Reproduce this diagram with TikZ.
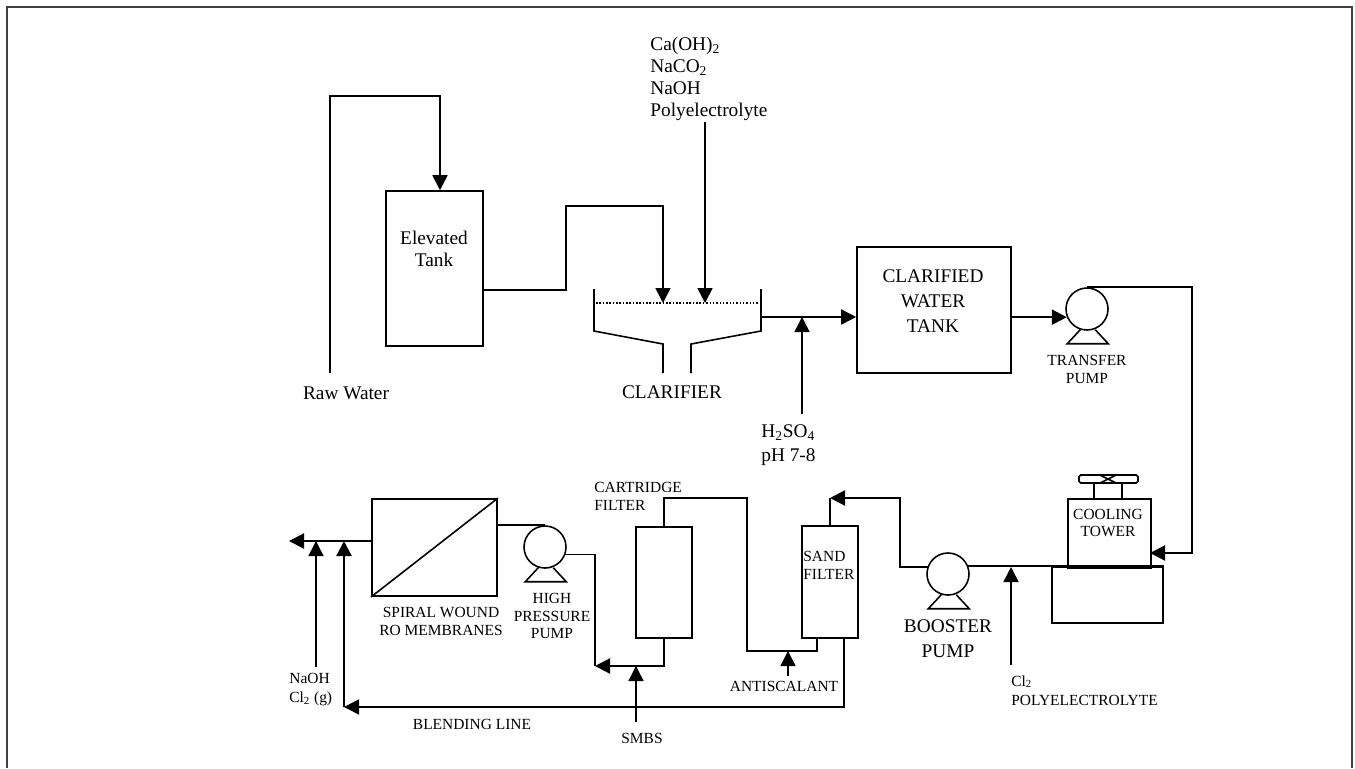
\documentclass[tikz,border=0pt]{standalone}
\usepackage{fontspec}
\setmainfont{Liberation Serif}
\usepackage{tikz}
\usetikzlibrary{arrows.meta,positioning,calc}

\newcommand{\pumpbase}[1]{\draw[pipe] (#1.252) -- ++(-13,14) -- ++(41,0) -- ++(-13,-14);}

\begin{document}
\begin{tikzpicture}[
    x=0.02cm, y=-0.02cm,
    pipe/.style={draw, line width=0.9pt},
    heavy/.style={draw, line width=1.25pt},
    flow/.style={pipe, -{Triangle[length=0.3cm, width=0.3cm]}},
    heavyflow/.style={heavy, -{Triangle[length=0.3cm, width=0.3cm]}},
    unit/.style={draw, line width=0.9pt, inner sep=0pt},
    pumpbody/.style={draw, circle, line width=0.9pt, inner sep=0pt, minimum size=0.84cm},
    biglabel/.style={inner sep=0pt, align=center, font=\fontsize{11}{12.5}\selectfont},
    smalllabel/.style={inner sep=0pt, align=center, font=\fontsize{8.8}{10.2}\selectfont}
  ]
    \useasboundingbox (0,0) rectangle (1355,768);
    \draw[line width=1.1pt, black!75] (7,768) -- (7,7) -- (1352,7) -- (1352,768);

    % upper train
    \node[unit, minimum width=1.94cm, minimum height=3.1cm] (tank) at (434.5,268.5) {};
    \node[biglabel] (tanklabel) at (434,249) {Elevated\\Tank};
    \node[unit, minimum width=3.08cm, minimum height=2.52cm] (clarified) at (934,310) {};
    \node[biglabel] (clarifiedlabel) at (933,301) {CLARIFIED\\[0.06cm]WATER\\[0.06cm]TANK};
    \node[pumpbody] (transfer) at (1087,309) {};
    \pumpbase{transfer}
    \node[smalllabel] (transferlabel) at (1087,369) {TRANSFER\\PUMP};
    \node[biglabel] (raw) at (346,393) {Raw Water};
    \node[biglabel] (clarifierlabel) at (672,392) {CLARIFIER};
    \node[biglabel, align=left, anchor=north west] (dosing) at (650,36.5) {Ca(OH)\textsubscript{2}\\NaCO\textsubscript{2}\\NaOH\\Polyelectrolyte};
    \node[biglabel, align=left, anchor=west] (acid) at (761,445) {H\textsubscript{2}SO\textsubscript{4}\\[0.04cm]pH 7-8};

    % clarifier vessel
    \coordinate (surfl) at (596,303);
    \coordinate (surfr) at (760,303);
    \coordinate (feedin) at (663,303);
    \coordinate (dosein) at (705,303);
    \draw[pipe] (594,289) -- (594,331) -- (663,344) -- (663,373);
    \draw[pipe] (761,289) -- (761,331) -- (691,344) -- (691,373);
    \draw[pipe, densely dotted, line width=0.7pt] (surfl) -- (surfr);

    \coordinate (rawstart) at (330,373);
    \coordinate (dosestart) at (705,122);
    \coordinate (clarout) at (761,317);
    \coordinate (acidin) at (802,317);
    \coordinate (acidstart) at (802,414);
    \draw[flow] (rawstart) -- (330,96) -| ([xshift=0.11cm]tank.north);
    \draw[flow] ([yshift=-0.43cm]tank.east) -- (566,290) -- (566,206) -| (feedin);
    \draw[flow] (dosestart) -- (dosein);
    \draw[flow] (clarout) -- (clarout -| clarified.west);
    \draw[flow] (acidstart) -- (acidin);
    \draw[heavyflow] (clarified.east |- transfer.202) -- (transfer.202);

    % cooling tower
    \node[unit, minimum width=1.66cm, minimum height=1.38cm, anchor=north west] (tower) at (1067,498) {};
    \node[smalllabel] (towerlabel) at (1108,523) {COOLING\\TOWER};
    \node[unit, minimum width=2.22cm, minimum height=1.12cm] (basin) at (1107.5,595) {};
    \node[unit, rounded corners=1pt, minimum width=1.18cm, minimum height=0.16cm] (fan) at (1108.5,479) {};
    \draw[pipe] (1100,475) -- (1116,483) (1100,483) -- (1116,475);
    \draw[pipe] (1094,484) -- (1094,498) (1122,484) -- (1122,498);
    \coordinate (returnin) at (1150,553);
    \coordinate (returnx) at (1192,553);
    \draw[heavyflow] (transfer.north) -| (returnx) -- (returnin);

    % lower train
    \node[pumpbody] (booster) at (948,574) {};
    \pumpbase{booster}
    \node[biglabel] (boosterlabel) at (948,639) {BOOSTER\\[0.06cm]PUMP};
    \coordinate (cl2in) at (1011,567);
    \coordinate (cl2start) at (1011,665);
    \coordinate (boosterleft) at (900,567);
    \draw[heavy] (basin.north east) -- (basin.north east -| booster.20);
    \node[smalllabel, align=left, anchor=north west] (cl2) at (1011,675) {Cl\textsubscript{2}\\[0.03cm]POLYELECTROLYTE};
    \draw[flow] (cl2start) -- (cl2in);

    \node[unit, minimum width=1.12cm, minimum height=2.24cm] (sand) at (830,582) {};
    \node[smalllabel, align=left, anchor=west] (sandlabel) at (803,565) {SAND\\FILTER};
    \coordinate (sandin) at (830,498);
    \coordinate (scalein) at (788,651);
    \coordinate (scalestart) at (788,676);
    \draw[heavyflow] (boosterleft -| booster.160) -- (boosterleft) -- (900,498) -- (sandin);
    \draw[pipe] (sandin) -- (sand.north);
    \node[smalllabel] (antiscalant) at (784,686) {ANTISCALANT};
    \draw[flow] (scalestart) -- (scalein);

    \node[unit, minimum width=1.12cm, minimum height=2.22cm] (cartridge) at (664,582.5) {};
    \node[smalllabel, align=left, anchor=north west] (cartridgelabel) at (594,482) {CARTRIDGE\\FILTER};
    \draw[heavy] ([xshift=-0.26cm]sand.south) |- (747,651) -- (747,498) -| (cartridge.north);

    \node[pumpbody] (hp) at (545,547) {};
    \pumpbase{hp}
    \node[smalllabel] (hplabel) at (552,616) {HIGH\\PRESSURE\\PUMP};
    \node[draw, line width=1.1pt, minimum width=2.5cm, minimum height=1.94cm, inner sep=0pt] (ro) at (434.5,547.5) {};
    \draw[pipe] (ro.south west) -- (ro.north east);
    \node[smalllabel] (rolabel) at (441,621) {SPIRAL WOUND\\RO MEMBRANES};

    \coordinate (hpjoin) at (595,666);
    \coordinate (smbsin) at (636,666);
    \coordinate (smbsstart) at (636,722);
    \draw[heavyflow] (cartridge.south) |- (hpjoin);
    \draw[pipe] (hp.-20) -| (hpjoin);
    \draw[pipe] (ro.north east |- hp.north) -- (hp.north);
    \node[smalllabel] (smbs) at (642,738) {SMBS};
    \draw[flow] (smbsstart) -- (smbsin);

    \coordinate (roout) at (289,541);
    \coordinate (causticin) at (316,541);
    \coordinate (causticstart) at (316,667);
    \coordinate (blendin) at (344,541);
    \draw[heavyflow] (ro.west |- roout) -- (roout);
    \node[smalllabel, align=left, anchor=north west] (caustic) at (289,673) {NaOH\\[0.02cm]Cl\textsubscript{2} (g)};
    \draw[flow] (causticstart) -- (causticin);
    \coordinate (blendcorner) at (344,707);
    \draw[flow] ([xshift=0.28cm]sand.south) |- (blendcorner);
    \draw[heavyflow] (blendcorner) -- (blendin);
    \node[smalllabel] (blendlabel) at (472,724) {BLENDING LINE};
  \end{tikzpicture}
\end{document}
